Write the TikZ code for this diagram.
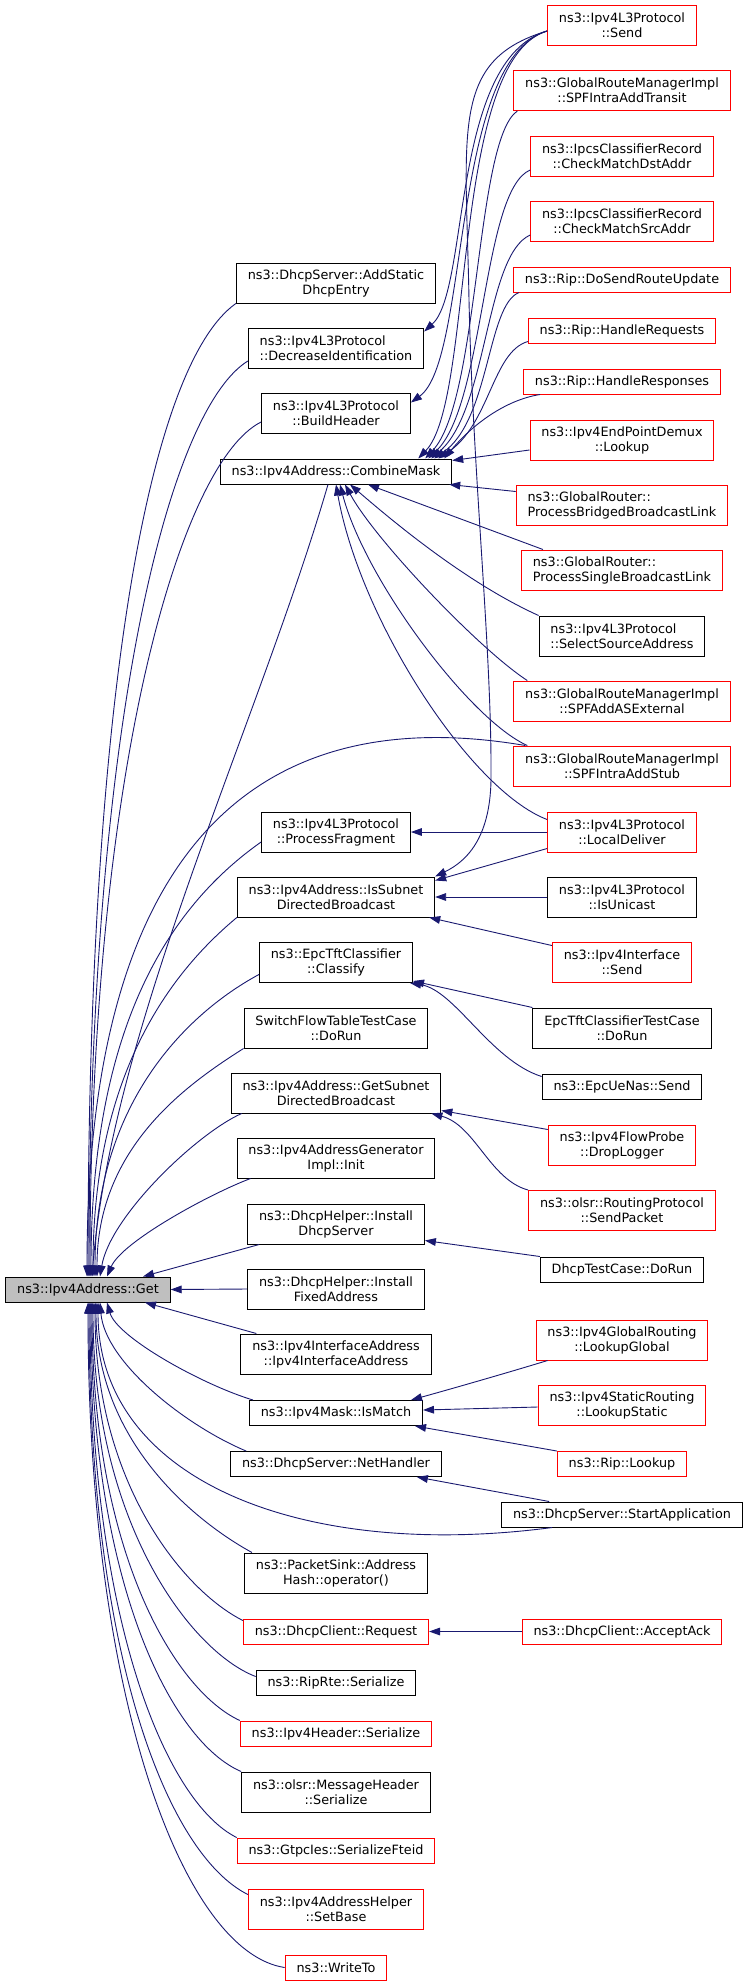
\documentclass[tikz,border=0pt]{standalone}
\usepackage{fontspec}
\setmainfont{DejaVu Sans}
\usetikzlibrary{arrows.meta}
\definecolor{edgeblue}{HTML}{191970}
\definecolor{boxred}{HTML}{FF0000}
\definecolor{rootgray}{HTML}{BFBFBF}

\begin{document}
\begin{tikzpicture}[x=1pt,y=-1pt,
  fn/.style={draw=black,line width=1pt,align=center,inner xsep=11.4pt,inner ysep=2pt,
    minimum height=25pt,font=\fontsize{12.8}{15}\selectfont},
  fnred/.style={fn,draw=boxred},
  tall/.style={minimum height=40pt},
  link/.style={-{Triangle[length=11pt,width=7.7pt]},draw=edgeblue,line width=0.9pt}]
  \useasboundingbox (0,0) rectangle (747,1987);

  \node[fn,fill=rootgray] (get) at (88,1289.5) {ns3::Ipv4Address::Get};

  \node[fn,tall] (ade) at (336,283) {ns3::DhcpServer::AddStatic\\DhcpEntry};
  \node[fn,tall,align=left] (dec) at (336,348) {ns3::Ipv4L3Protocol\\::DecreaseIdentification};
  \node[fn,tall] (bhd) at (336,413) {ns3::Ipv4L3Protocol\\::BuildHeader};
  \node[fn] (cmk) at (336,471.5) {ns3::Ipv4Address::CombineMask};
  \node[fn,tall] (pfr) at (336,832) {ns3::Ipv4L3Protocol\\::ProcessFragment};
  \node[fn,tall] (isd) at (336,897) {ns3::Ipv4Address::IsSubnet\\DirectedBroadcast};
  \node[fn,tall] (cls) at (336,962.5) {ns3::EpcTftClassifier\\::Classify};
  \node[fn,tall] (sft) at (336,1028) {SwitchFlowTableTestCase\\::DoRun};
  \node[fn,tall] (gsd) at (336,1093) {ns3::Ipv4Address::GetSubnet\\DirectedBroadcast};
  \node[fn,tall] (agi) at (336,1158) {ns3::Ipv4AddressGenerator\\Impl::Init};
  \node[fn,tall] (ids) at (336,1224) {ns3::DhcpHelper::Install\\DhcpServer};
  \node[fn,tall] (ifa) at (336,1289) {ns3::DhcpHelper::Install\\FixedAddress};
  \node[fn,tall] (iia) at (336,1354) {ns3::Ipv4InterfaceAddress\\::Ipv4InterfaceAddress};
  \node[fn] (ism) at (336,1413) {ns3::Ipv4Mask::IsMatch};
  \node[fn] (nhd) at (336,1464) {ns3::DhcpServer::NetHandler};
  \node[fn,tall] (psk) at (336,1573) {ns3::PacketSink::Address\\Hash::operator()};
  \node[fnred] (req) at (336,1631.5) {ns3::DhcpClient::Request};
  \node[fn] (rte) at (336,1682.5) {ns3::RipRte::Serialize};
  \node[fnred] (ihs) at (336,1733.5) {ns3::Ipv4Header::Serialize};
  \node[fn,tall] (mhs) at (336,1792) {ns3::olsr::MessageHeader\\::Serialize};
  \node[fnred] (gtp) at (336,1850.5) {ns3::GtpcIes::SerializeFteid};
  \node[fnred,tall] (sbs) at (336,1909) {ns3::Ipv4AddressHelper\\::SetBase};
  \node[fnred] (wto) at (336,1967.5) {ns3::WriteTo};

  \node[fnred,tall] (snd) at (622,25) {ns3::Ipv4L3Protocol\\::Send};
  \node[fnred,tall] (spt) at (622,90.5) {ns3::GlobalRouteManagerImpl\\::SPFIntraAddTransit};
  \node[fnred,tall] (dst) at (622,156) {ns3::IpcsClassifierRecord\\::CheckMatchDstAddr};
  \node[fnred,tall] (src) at (622,221) {ns3::IpcsClassifierRecord\\::CheckMatchSrcAddr};
  \node[fnred] (dsr) at (622,279.5) {ns3::Rip::DoSendRouteUpdate};
  \node[fnred] (hrq) at (622,330.5) {ns3::Rip::HandleRequests};
  \node[fnred] (hrs) at (622,381.5) {ns3::Rip::HandleResponses};
  \node[fnred,tall] (epd) at (622,440) {ns3::Ipv4EndPointDemux\\::Lookup};
  \node[fnred,tall,align=left] (pbb) at (622,505) {ns3::GlobalRouter::\\ProcessBridgedBroadcastLink};
  \node[fnred,tall,align=left] (psb) at (622,570) {ns3::GlobalRouter::\\ProcessSingleBroadcastLink};
  \node[fn,tall,align=left] (ssa) at (622,636) {ns3::Ipv4L3Protocol\\::SelectSourceAddress};
  \node[fnred,tall] (ext) at (622,701) {ns3::GlobalRouteManagerImpl\\::SPFAddASExternal};
  \node[fnred,tall] (stub) at (622,766) {ns3::GlobalRouteManagerImpl\\::SPFIntraAddStub};
  \node[fnred,tall] (ld) at (622,832) {ns3::Ipv4L3Protocol\\::LocalDeliver};
  \node[fn,tall] (isu) at (622,897) {ns3::Ipv4L3Protocol\\::IsUnicast};
  \node[fnred,tall] (ifs) at (622,962) {ns3::Ipv4Interface\\::Send};
  \node[fn,tall] (tct) at (622,1028) {EpcTftClassifierTestCase\\::DoRun};
  \node[fn] (uen) at (622,1086.5) {ns3::EpcUeNas::Send};
  \node[fnred,tall] (dlg) at (622,1145) {ns3::Ipv4FlowProbe\\::DropLogger};
  \node[fnred,tall] (spk) at (622,1210.5) {ns3::olsr::RoutingProtocol\\::SendPacket};
  \node[fn] (dtc) at (622,1269.5) {DhcpTestCase::DoRun};
  \node[fnred,tall] (lgl) at (622,1340) {ns3::Ipv4GlobalRouting\\::LookupGlobal};
  \node[fnred,tall] (lst) at (622,1405) {ns3::Ipv4StaticRouting\\::LookupStatic};
  \node[fnred] (rlk) at (622,1464) {ns3::Rip::Lookup};
  \node[fn] (sap) at (622,1514.5) {ns3::DhcpServer::StartApplication};
  \node[fnred] (aack) at (622,1631.5) {ns3::DhcpClient::AcceptAck};

  \draw [link] (ade.south west) .. controls +(-85,60) and +(0,-590) .. (get.north);
  \draw [link] ([yshift=-13pt]dec.west) .. controls +(-80,50) and +(0,-550) .. ([xshift=1pt]get.north);
  \draw [link] ([yshift=-9pt]bhd.west) .. controls +(-80,40) and +(0,-510) .. ([xshift=2pt]get.north);
  \draw [link] ([xshift=-8pt]cmk.south) .. controls +(-70,240) and +(20,-250) .. ([xshift=4pt]get.north);
  \draw [link] ([xshift=12pt]stub.north west) .. controls +(-270,-46) and +(0,-427) .. ([xshift=-1pt]get.north);
  \draw [link] ([yshift=-10pt]pfr.west) .. controls +(-85,60) and +(0,-260) .. ([xshift=3pt]get.north);
  \draw [link] (isd.south west) .. controls +(-60,50) and +(0,-210) .. ([xshift=5pt]get.north);
  \draw [link] ([yshift=-12pt]cls.west) .. controls +(-65,35) and +(0,-180) .. ([xshift=7pt]get.north);
  \draw [link] (sft.south west) .. controls +(-55,35) and +(0,-130) .. ([xshift=9pt]get.north);
  \draw [link] ([xshift=11pt]gsd.south west) .. controls +(-45,20) and +(10,-60) .. ([xshift=12pt]get.north);
  \draw [link] ([xshift=14pt]agi.south west) .. controls +(-40,15) and +(15,-35) .. ([xshift=19pt]get.north);
  \draw [link] ([xshift=12pt]ids.south west) -- ([xshift=55pt]get.north);
  \draw [link] (ifa.west) -- (get.east);
  \draw [link] ([xshift=16pt]iia.north west) -- ([xshift=57pt]get.south);
  \draw [link] ([xshift=4pt]ism.north west) .. controls +(-50,-15) and +(10,35) .. ([xshift=19pt]get.south);
  \draw [link] ([xshift=16pt]nhd.north west) .. controls +(-60,-25) and +(5,60) .. ([xshift=12pt]get.south);
  \draw [link] ([xshift=51pt]sap.south west) .. controls +(-250,33) and +(0,178) .. ([xshift=10pt]get.south);
  \draw [link] ([xshift=8pt]psk.north west) .. controls +(-55,-30) and +(0,140) .. ([xshift=8pt]get.south);
  \draw [link] ([yshift=-2pt]req.north west) .. controls +(-60,-30) and +(0,180) .. ([xshift=7pt]get.south);
  \draw [link] ([yshift=6pt]rte.west) .. controls +(-65,-25) and +(0,220) .. ([xshift=5pt]get.south);
  \draw [link] (ihs.north west) .. controls +(-65,-30) and +(0,250) .. ([xshift=4pt]get.south);
  \draw [link] (mhs.north west) .. controls +(-70,-30) and +(0,280) .. ([xshift=3pt]get.south);
  \draw [link] (gtp.north west) .. controls +(-70,-35) and +(0,320) .. ([xshift=2pt]get.south);
  \draw [link] ([yshift=-6pt]sbs.north west) .. controls +(-80,-40) and +(0,355) .. ([xshift=1pt]get.south);
  \draw [link] (wto.west) .. controls +(-100,-15) and +(0,400) .. (get.south);

  \draw [link] ([yshift=-6pt]snd.west) .. controls (450,60) and (470,290) .. ([yshift=-4pt]dec.north east);
  \draw [link] ([yshift=-6pt]snd.west) .. controls (450,60) and (470,360) .. ([yshift=-10pt]bhd.north east);
  \draw [link] ([yshift=-6pt]snd.west) .. controls (450,60) and (475,400) .. ([xshift=-34pt]cmk.north east);
  \draw [link] ([yshift=-6pt]snd.west) .. controls (450,60) and (466,130) .. (469,300)
    .. controls (473,480) and (492,650) .. (491,780) .. controls (490,840) and (465,862) .. (isd.north east);
  \draw [link] ([xshift=4pt]spt.south west) .. controls (475,140) and (480,400) .. ([xshift=-27pt]cmk.north east);
  \draw [link] ([yshift=-14pt]dst.west) .. controls (482,190) and (485,405) .. ([xshift=-24pt]cmk.north east);
  \draw [link] ([yshift=-14pt]src.west) .. controls (485,255) and (488,410) .. ([xshift=-21pt]cmk.north east);
  \draw [link] ([xshift=6pt]dsr.south west) .. controls (487,305) and (490,420) .. ([xshift=-18pt]cmk.north east);
  \draw [link] ([yshift=2pt]hrq.south west) .. controls (492,352) and (490,425) .. ([xshift=-14pt]cmk.north east);
  \draw [link] ([xshift=17pt]hrs.south west) .. controls (505,400) and (472,425) .. ([xshift=-8pt]cmk.north east);
  \draw [link] ([yshift=-10pt]epd.west) -- ([yshift=-2pt]cmk.north east);
  \draw [link] ([yshift=-7pt]pbb.north west) -- ([xshift=-3pt]cmk.south east);
  \draw [link] ([xshift=22pt]psb.north west) -- ([xshift=32pt]cmk.south);
  \draw [link] (ssa.north west) .. controls (460,580) and (380,510) .. ([xshift=14pt]cmk.south);
  \draw [link] ([xshift=14pt]ext.north west) .. controls (480,650) and (375,540) .. ([xshift=9pt]cmk.south);
  \draw [link] ([xshift=14pt]stub.north west) .. controls (470,720) and (365,580) .. ([xshift=4pt]cmk.south);
  \draw [link] ([yshift=-8pt]ld.north west) .. controls (470,790) and (360,620) .. (cmk.south);

  \draw [link] (ld.west) -- (pfr.east);
  \draw [link] ([yshift=4pt]ld.south west) -- ([yshift=-4pt]isd.north east);
  \draw [link] (isu.west) -- (isd.east);
  \draw [link] ([yshift=-4pt]ifs.north west) -- ([xshift=-6pt]isd.south east);
  \draw [link] (tct.north west) -- ([yshift=2pt]cls.south east);
  \draw [link] ([yshift=-3pt]uen.north west) .. controls (490,1060) and (455,990) .. ([xshift=-3pt]cls.south east);
  \draw [link] ([yshift=-5pt]dlg.north west) -- ([yshift=3pt]gsd.south east);
  \draw [link] (spk.north west) .. controls (490,1180) and (475,1125) .. ([xshift=-10pt]gsd.south east);
  \draw [link] (dtc.north west) -- ([yshift=4pt]ids.south east);
  \draw [link] ([xshift=12pt]lgl.south west) .. controls (500,1375) and (440,1392) .. ([xshift=-12pt]ism.north east);
  \draw [link] ([yshift=-2pt]lst.west) -- ([yshift=3pt]ism.east);
  \draw [link] (rlk.north west) -- ([xshift=-8pt]ism.south east);
  \draw [link] ([xshift=48pt]sap.north west) -- ([xshift=-25pt]nhd.south east);
  \draw [link] (aack.west) -- (req.east);
\end{tikzpicture}
\end{document}
